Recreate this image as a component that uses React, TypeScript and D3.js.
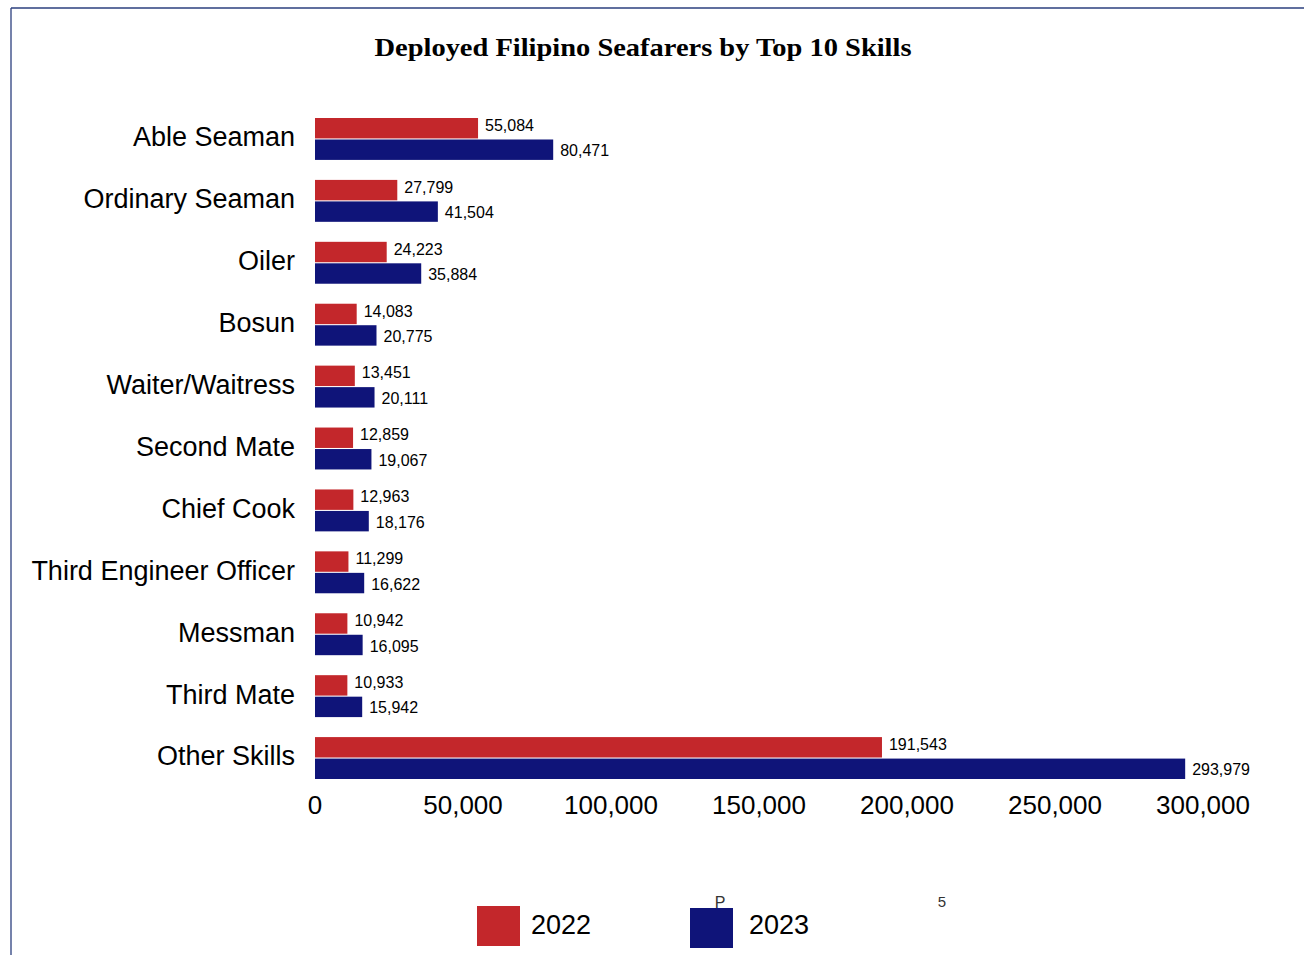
import React from 'react';
import * as d3 from 'd3';

const skills = [
  'Able Seaman',
  'Ordinary Seaman',
  'Oiler',
  'Bosun',
  'Waiter/Waitress',
  'Second Mate',
  'Chief Cook',
  'Third Engineer Officer',
  'Messman',
  'Third Mate',
  'Other Skills',
];
const years = ['2022', '2023'];
const values2022 = [55084, 27799, 24223, 14083, 13451, 12859, 12963, 11299, 10942, 10933, 191543];
const values2023 = [80471, 41504, 35884, 20775, 20111, 19067, 18176, 16622, 16095, 15942, 293979];
const xTicks = [0, 50000, 100000, 150000, 200000, 250000, 300000];

const colors = ['#c3272b', '#0f1479'];
const sans = '"Liberation Sans", Arial, sans-serif';

export default function App() {
  const width = 1304;
  const height = 955;

  const x = d3.scaleLinear().domain([0, 300000]).range([315, 1203]);
  const y = d3.scaleBand().domain(skills).range([108, 789]).paddingInner(0.323).paddingOuter(0.1615);
  const ySub = d3.scaleBand().domain(years).range([0, y.bandwidth()]).paddingInner(0.05);
  const fmt = d3.format(',');
  const series = [values2022, values2023];

  return (
    <svg
      width={width}
      height={height}
      style={{ position: 'absolute', left: 0, top: 0, background: '#fff' }}
    >
      <line x1={11} y1={8} x2={1304} y2={8} stroke="#2b3f7e" strokeWidth={1.3} />
      <line x1={11} y1={8} x2={11} y2={955} stroke="#2b3f7e" strokeWidth={1.3} />

      <text
        x={643}
        y={56}
        textAnchor="middle"
        fontFamily='"Liberation Serif", "DejaVu Serif", serif'
        fontWeight="bold"
        fontSize={26}
        textLength={537}
        lengthAdjust="spacingAndGlyphs"
        fill="#000"
      >
        Deployed Filipino Seafarers by Top 10 Skills
      </text>

      {skills.map((s, i) => (
        <g key={s} transform={`translate(0,${y(s)})`}>
          <text
            x={295}
            y={y.bandwidth() / 2 - 2}
            dy="0.35em"
            textAnchor="end"
            fontFamily={sans}
            fontSize={27}
            fill="#000"
          >
            {s}
          </text>
          {years.map((yr, k) => {
            const v = series[k][i];
            return (
              <g key={yr}>
                <rect
                  x={x(0)}
                  y={ySub(yr)}
                  width={x(v) - x(0)}
                  height={ySub.bandwidth()}
                  fill={colors[k]}
                />
                <text
                  x={x(v) + 7}
                  y={(ySub(yr) as number) + ySub.bandwidth() / 2 - (k === 0 ? 3 : -1)}
                  dy="0.35em"
                  fontFamily={sans}
                  fontSize={16}
                  fill="#000"
                >
                  {fmt(v)}
                </text>
              </g>
            );
          })}
        </g>
      ))}

      {xTicks.map((t) => (
        <text
          key={t}
          x={x(t)}
          y={805}
          dy="0.35em"
          textAnchor="middle"
          fontFamily={sans}
          fontSize={26}
          fill="#000"
        >
          {fmt(t)}
        </text>
      ))}

      <g fontFamily={sans} fill="#000">
        <rect x={477} y={906} width={43} height={40} fill={colors[0]} />
        <text x={531} y={925} dy="0.35em" fontSize={27}>
          {years[0]}
        </text>
        <rect x={690} y={908} width={43} height={40} fill={colors[1]} />
        <text x={749} y={925} dy="0.35em" fontSize={27}>
          {years[1]}
        </text>
        <text x={720} y={902} dy="0.35em" textAnchor="middle" fontSize={16} fill="#333">
          P
        </text>
        <text x={942} y={902} dy="0.35em" textAnchor="middle" fontSize={15} fill="#333">
          5
        </text>
      </g>
    </svg>
  );
}
